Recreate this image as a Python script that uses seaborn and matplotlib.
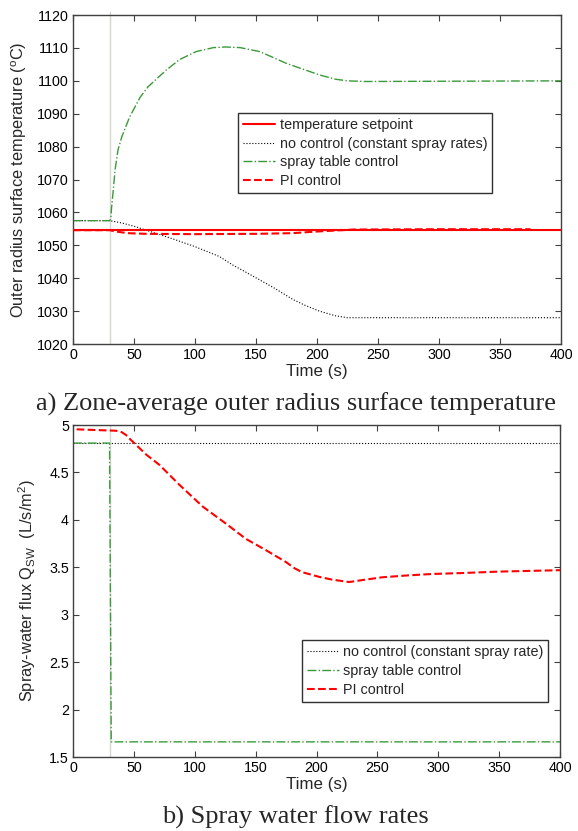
import numpy as np
import pandas as pd
import matplotlib
matplotlib.use('Agg')
import matplotlib.pyplot as plt
import seaborn as sns

# --- top panel: zone-average outer radius surface temperature (deg C)
setpoint = 1054.6
t_setpoint = [0, 400]

t_noctrl = [0, 30, 40, 50, 60, 80, 100, 120, 131, 139, 153, 165, 180, 190, 202, 215, 225, 400]
T_noctrl = [1057.5, 1057.5, 1056.8, 1055.8, 1054.6, 1052.2, 1049.6, 1046.6, 1044.0, 1042.4, 1039.5, 1037.0, 1033.6, 1031.8, 1030.0, 1028.6, 1028.0, 1028.0]

t_table = [0, 30, 31, 31.5, 32.8, 34.5, 36.9, 40, 46.4, 55, 61.5, 76.5, 87.5, 101, 115, 125, 137, 153, 175, 202, 215, 225, 240, 400]
T_table = [1057.5, 1057.5, 1058.0, 1061.0, 1066.0, 1073.0, 1079.0, 1083.0, 1089.0, 1095.0, 1098.2, 1103.3, 1106.5, 1108.9, 1110.1, 1110.3, 1110.1, 1108.9, 1105.3, 1101.8, 1100.5, 1100.0, 1099.8, 1100.0]

t_pi = [0, 30, 35, 45, 60, 100, 150, 180, 200, 215, 230, 300, 375]
T_pi = [1054.6, 1054.6, 1054.2, 1053.7, 1053.5, 1053.4, 1053.5, 1053.7, 1054.2, 1054.5, 1054.8, 1054.9, 1054.9]

# --- bottom panel: spray-water flux (L/s/m2)
t_q_noctrl = [0, 400]
q_noctrl = [4.81, 4.81]

t_q_table = [0, 30, 31.4, 400]
q_table = [4.81, 4.81, 1.66, 1.66]

t_q_pi = [3, 35.5, 40, 43.7, 47, 51.9, 60, 71, 87.4, 106.6, 125.7, 142, 158.6, 175, 182, 188, 195, 202, 213, 226.8, 240, 254, 275, 295, 320, 349.7, 400]
q_pi = [4.955, 4.94, 4.925, 4.894, 4.85, 4.79, 4.69, 4.58, 4.37, 4.14, 3.96, 3.80, 3.68, 3.555, 3.49, 3.45, 3.425, 3.40, 3.37, 3.345, 3.37, 3.395, 3.415, 3.43, 3.44, 3.455, 3.47]

t_switch = 30

sns.set_style("ticks")
plt.rcParams['font.family'] = ['Liberation Sans', 'DejaVu Sans']
plt.rcParams['mathtext.default'] = 'regular'

green = '#3a9a3a'
red = '#ff0000'
spine_col = '#404040'

fig = plt.figure(figsize=(5.78, 8.31), dpi=100)
ax1 = fig.add_axes([0.1263, 0.5860, 0.8443, 0.3959])
ax2 = fig.add_axes([0.1263, 0.0890, 0.8426, 0.3995])

leg_kw = dict(loc='upper left', fontsize=10.4, frameon=True, fancybox=False, framealpha=1,
              edgecolor='#303030', handlelength=2.2, handletextpad=0.3,
              labelspacing=0.33, borderaxespad=0, borderpad=0.35)

# top panel
sns.lineplot(x=t_setpoint, y=[setpoint, setpoint], ax=ax1, color=red, linewidth=1.5,
             label='temperature setpoint', zorder=4)
sns.lineplot(x=t_noctrl, y=T_noctrl, ax=ax1, color='black', linewidth=0.8, linestyle=':',
             label='no control (constant spray rates)')
sns.lineplot(x=t_table, y=T_table, ax=ax1, color=green, linewidth=1.0, linestyle='-.',
             label='spray table control')
sns.lineplot(x=t_pi, y=T_pi, ax=ax1, color=red, linewidth=1.5, linestyle='--',
             label='PI control', zorder=3)
ax1.axvline(t_switch, ymin=0, ymax=1.01, color='#d4d4d0', linewidth=1, clip_on=False, zorder=1)
ax1.set_xlim(0, 400)
ax1.set_ylim(1020, 1120)
ax1.set_yticks(np.arange(1020, 1121, 10))
ax1.set_xticks(np.arange(0, 401, 50))
ax1.set_xlabel('Time (s)', fontsize=12.2, labelpad=1)
ax1.set_ylabel('Outer radius surface temperature ($^o$C)', fontsize=11.8)
ax1.yaxis.set_label_coords(-0.09, 0.5)
ax1.legend(bbox_to_anchor=(0.339, 0.703), **leg_kw)

# bottom panel
sns.lineplot(x=t_q_noctrl, y=q_noctrl, ax=ax2, color='black', linewidth=0.8, linestyle=':',
             label='no control (constant spray rate)')
sns.lineplot(x=t_q_table, y=q_table, ax=ax2, color=green, linewidth=1.0, linestyle='-.',
             label='spray table control')
sns.lineplot(x=t_q_pi, y=q_pi, ax=ax2, color=red, linewidth=1.5, linestyle='--',
             label='PI control', zorder=3)
ax2.axvline(t_switch, color='#d4d4d0', linewidth=1, zorder=1)
ax2.set_xlim(0, 400)
ax2.set_ylim(1.5, 5)
ax2.set_yticks(np.arange(1.5, 5.01, 0.5))
ax2.set_yticklabels(['1.5', '2', '2.5', '3', '3.5', '4', '4.5', '5'])
ax2.set_xticks(np.arange(0, 401, 50))
ax2.set_xlabel('Time (s)', fontsize=12.2, labelpad=1)
ax2.set_ylabel('Spray-water flux Q$_{SW}$  (L/s/m$^2$)', fontsize=11.8)
ax2.yaxis.set_label_coords(-0.072, 0.5)
ax2.legend(bbox_to_anchor=(0.470, 0.352), **leg_kw)

for ax in (ax1, ax2):
    ax.tick_params(direction='in', length=4, width=0.8, top=True, right=True,
                   labelsize=10.3, pad=3, colors='black')
    for s in ax.spines.values():
        s.set_visible(True)
        s.set_color(spine_col)
        s.set_linewidth(1.0)
    ax.tick_params(axis='both', color=spine_col)

fig.text(0.512, 0.514, 'a) Zone-average outer radius surface temperature',
         family=['Liberation Serif'], fontsize=19, ha='center', va='center')
fig.text(0.511, 0.017, 'b) Spray water flow rates',
         family=['Liberation Serif'], fontsize=19, ha='center', va='center')

fig.savefig('out.png', dpi=100)
